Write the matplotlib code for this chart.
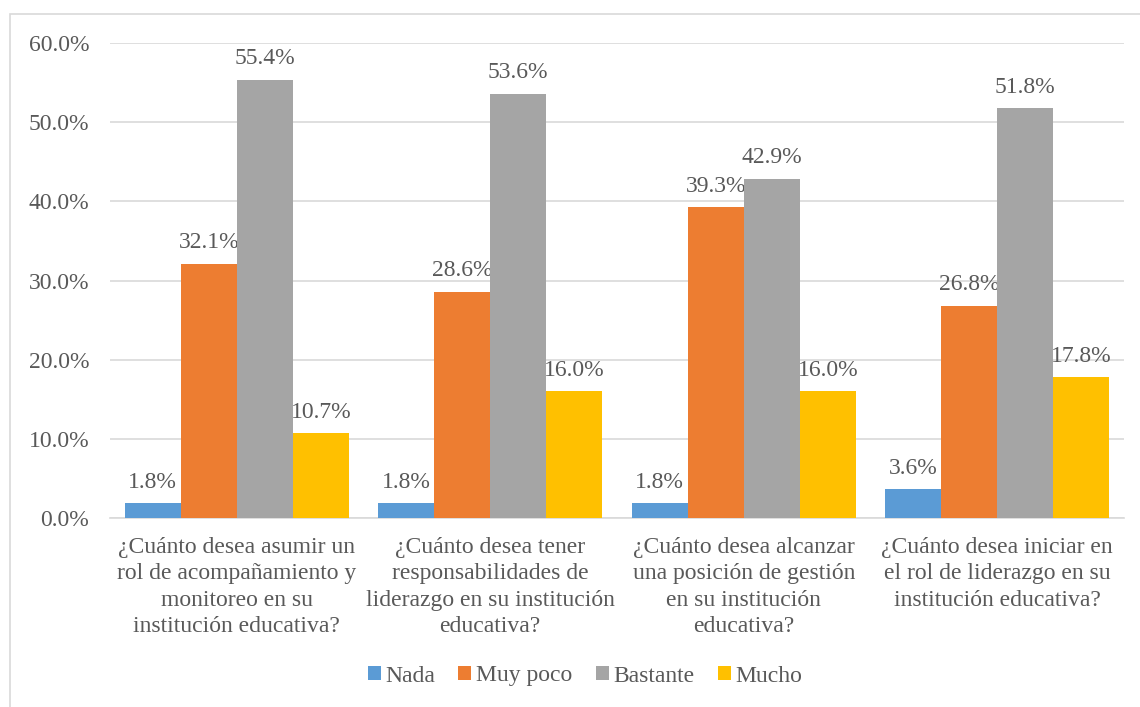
import matplotlib.pyplot as plt
import numpy as np
from matplotlib.patches import Rectangle


categories = [
    "¿Cuánto desea asumir un\nrol de acompañamiento y\nmonitoreo en su\ninstitución educativa?",
    "¿Cuánto desea tener\nresponsabilidades de\nliderazgo en su institución\neducativa?",
    "¿Cuánto desea alcanzar\nuna posición de gestión\nen su institución\neducativa?",
    "¿Cuánto desea iniciar en\nel rol de liderazgo en su\ninstitución educativa?",
]
series_names = ["Nada", "Muy poco", "Bastante", "Mucho"]
nada = [1.8, 1.8, 1.8, 3.6]
muy_poco = [32.1, 28.6, 39.3, 26.8]
bastante = [55.4, 53.6, 42.9, 51.8]
mucho = [10.7, 16.0, 16.0, 17.8]
colors = ['#5B9BD5', '#ED7D31', '#A5A5A5', '#FFC000']

text_color = '#595959'
fs = 17
plt.rcParams['font.family'] = ['Liberation Serif', 'DejaVu Serif']

fig = plt.figure(figsize=(11.4, 7.07), dpi=100)
ax = fig.add_axes([110 / 1140, 1 - 517.7 / 707, 1014 / 1140, (517.7 - 43.3) / 707])

# Chart border (Excel chart area)
fig.patches.append(Rectangle((10 / 1140, -0.1), 1.2, 1 - 14 / 707 + 0.1,
                             transform=fig.transFigure, fill=False,
                             edgecolor='#D9D9D9', linewidth=1.2))

x = np.arange(len(categories))
width = 0.221
all_series = [nada, muy_poco, bastante, mucho]
handles = []
for i, (name, vals, c) in enumerate(zip(series_names, all_series, colors)):
    offs = (i - 1.5) * width
    bars = ax.bar(x + offs, vals, width, color=c, label=name, zorder=3)
    handles.append(bars)
    for b, v in zip(bars, vals):
        ax.annotate(f"{v:.1f}%", xy=(b.get_x() + b.get_width() / 2, v),
                    xytext=(0, 7.5), textcoords='offset points',
                    ha='center', va='bottom', fontsize=fs, color=text_color)

ax.set_xlim(-0.5, len(categories) - 0.5)
ax.set_ylim(0, 60)
ax.set_yticks(np.arange(0, 61, 10))
ax.set_yticklabels([f"{t:.1f}%" for t in np.arange(0, 61, 10)])
ax.yaxis.grid(True, color='#D9D9D9', linewidth=1.2, zorder=0)
ax.set_axisbelow(True)

ax.set_xticks(x)
ax.set_xticklabels(categories, linespacing=1.33)
ax.tick_params(axis='both', length=0, labelsize=fs, labelcolor=text_color)
ax.tick_params(axis='y', pad=15)
ax.tick_params(axis='x', pad=14)

for s in ['top', 'right', 'left']:
    ax.spines[s].set_visible(False)
ax.spines['bottom'].set_color('#D9D9D9')
ax.spines['bottom'].set_linewidth(1.2)

# One legend per entry so all labels sit on the same baseline
legend_left = [368, 458, 596, 718]
for h, name, lx in zip(handles, series_names, legend_left):
    leg = fig.legend([h], [name], loc='center left',
                     bbox_to_anchor=(lx / 1140, 1 - 676 / 707),
                     frameon=False, fontsize=fs, borderpad=0, borderaxespad=0,
                     handlelength=0.55, handleheight=0.55, handletextpad=0.2)
    leg.get_texts()[0].set_color(text_color)

fig.savefig('out.png', dpi=100)
